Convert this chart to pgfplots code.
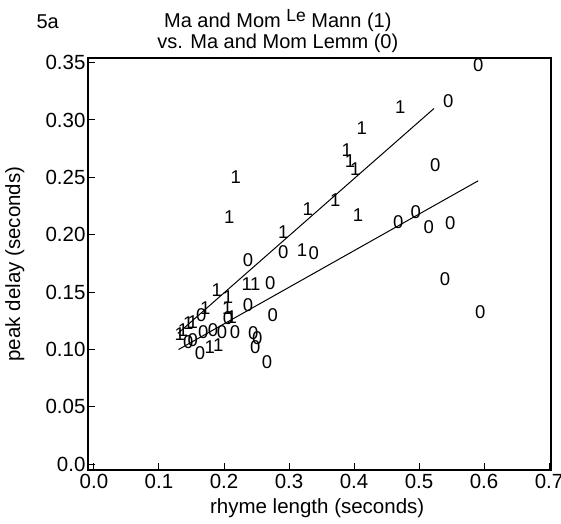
\documentclass[border=0pt]{standalone}
\usepackage{pgfplots}
\pgfplotsset{compat=1.18}
\usepackage{fontspec}
\setmainfont{Liberation Sans}
\begin{document}
\begin{tikzpicture}
\begin{axis}[
  scale only axis, width=463pt, height=412pt,
  xmin=-0.0092, xmax=0.703, ymin=-0.005, ymax=0.354,
  axis line style={line width=1.1pt},
  xtick={0,0.1,0.2,0.3,0.4,0.5,0.6,0.7},
  xticklabels={0.0,0.1,0.2,0.3,0.4,0.5,0.6,0.7},
  ytick={0,0.05,0.1,0.15,0.2,0.25,0.3,0.35},
  yticklabels={0.0,0.05,0.10,0.15,0.20,0.25,0.30,0.35},
  xtick pos=bottom, ytick pos=left, tick align=inside,
  major tick length=7pt, tick style={line width=1pt, black},
  /pgf/number format/assume math mode=true,
  tick label style={font=\fontsize{20.5}{22}\selectfont},
  xticklabel style={yshift=-1pt},
  yticklabel style={xshift=1pt},
  clip=false,
]
% group 1
\addplot[only marks, mark=text, text mark={\fontsize{18.5}{18.5}\selectfont 1}] coordinates {
(0.218,0.250) (0.208,0.215) (0.471,0.311) (0.412,0.293) (0.389,0.274)
(0.394,0.264) (0.402,0.257) (0.371,0.230) (0.329,0.222) (0.406,0.217)
(0.291,0.202) (0.320,0.187) (0.189,0.152) (0.235,0.157) (0.248,0.157)
(0.206,0.146) (0.171,0.136) (0.152,0.124) (0.145,0.123) (0.137,0.117)
(0.132,0.113) (0.212,0.128) (0.178,0.102) (0.191,0.104) (0.205,0.136)
};
% group 0
\addplot[only marks, mark=text, text mark={\fontsize{18.5}{18.5}\selectfont 0}] coordinates {
(0.591,0.348) (0.545,0.316) (0.525,0.261) (0.468,0.211) (0.495,0.220)
(0.515,0.207) (0.548,0.210) (0.540,0.161) (0.594,0.133) (0.291,0.185)
(0.338,0.184) (0.237,0.178) (0.271,0.158) (0.237,0.139) (0.275,0.130)
(0.206,0.127) (0.217,0.115) (0.245,0.114) (0.251,0.110) (0.248,0.102)
(0.266,0.089) (0.165,0.130) (0.152,0.108) (0.168,0.115) (0.183,0.117)
(0.197,0.115) (0.145,0.106) (0.163,0.097)
};
% regression lines
\addplot[black, line width=1pt] coordinates {(0.129,0.114) (0.523,0.310)};
\addplot[black, line width=1pt] coordinates {(0.130,0.100) (0.591,0.247)};
\node[font=\fontsize{20.5}{22}\selectfont] at (axis description cs:0.495,-0.092) {rhyme length (seconds)};
\node[font=\fontsize{20.5}{22}\selectfont, rotate=90] at (axis description cs:-0.158,0.5) {peak delay (seconds)};
\node[font=\fontsize{20}{22}\selectfont] at (axis description cs:0.41,1.092) {Ma and Mom \raisebox{0.3em}{\fontsize{17.5}{17.5}\selectfont Le} Mann (1)};
\node[font=\fontsize{20}{22}\selectfont] at (axis description cs:0.41,1.035) {vs. Ma and Mom Lemm (0)};
\node[font=\fontsize{20}{22}\selectfont] at (axis description cs:-0.087,1.087) {5a};
\end{axis}
\pgfresetboundingbox
\path (-88pt,-53pt) rectangle (473pt,470pt);
\end{tikzpicture}
\end{document}
